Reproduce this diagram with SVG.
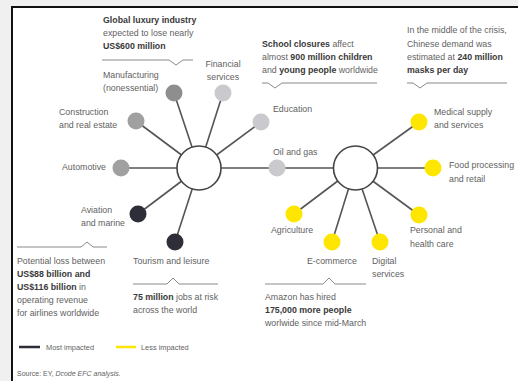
<svg xmlns="http://www.w3.org/2000/svg" width="518" height="381" viewBox="0 0 518 381">
  <style>
    text { font-family: "Liberation Sans", Arial, sans-serif; font-size: 8.8px; fill: #5f5f5f; }
    .b { font-weight: bold; fill: #3a3a3a; }
    .src { font-size: 7px; }
    .it { font-style: italic; }
    .spoke { stroke: #555; stroke-width: 1.6; fill: none; }
    .hub { fill: #fff; stroke: #444; stroke-width: 1.6; }
    .call { stroke: #8a8a8a; stroke-width: 1; fill: none; }
    .most { fill: #2e2e38; }
    .mid { fill: #8e8e8e; }
    .gray { fill: #a0a0a0; }
    .light { fill: #c9c9ce; }
    .less { fill: #ffe600; }
  </style>

  <!-- page backdrop and panel -->
  <rect x="0" y="0" width="518" height="381" fill="#f0f0f0"/>
  <rect x="12" y="7" width="520" height="390" fill="#fff" stroke="#111" stroke-width="2"/>

  <!-- spokes -->
  <g id="connectors">
    <line class="spoke" x1="199" y1="168" x2="174" y2="93"/>
    <line class="spoke" x1="199" y1="168" x2="223" y2="93"/>
    <line class="spoke" x1="199" y1="168" x2="136" y2="121"/>
    <line class="spoke" x1="199" y1="168" x2="261" y2="122"/>
    <line class="spoke" x1="199" y1="168" x2="121" y2="168"/>
    <line class="spoke" x1="199" y1="168" x2="355" y2="168"/>
    <line class="spoke" x1="199" y1="168" x2="138" y2="214"/>
    <line class="spoke" x1="199" y1="168" x2="175" y2="242"/>
    <line class="spoke" x1="355" y1="168" x2="419" y2="122"/>
    <line class="spoke" x1="355" y1="168" x2="433" y2="168"/>
    <line class="spoke" x1="355" y1="168" x2="419" y2="215"/>
    <line class="spoke" x1="355" y1="168" x2="380" y2="242"/>
    <line class="spoke" x1="355" y1="168" x2="332" y2="242"/>
    <line class="spoke" x1="355" y1="168" x2="294" y2="214"/>
  </g>

  <!-- hubs -->
  <g id="hub-left"><circle class="hub" cx="199" cy="168" r="22"/></g>
  <g id="hub-right"><circle class="hub" cx="355.5" cy="168" r="22"/></g>

  <!-- most impacted sectors -->
  <g id="manufacturing">
    <circle class="mid" cx="174" cy="93" r="8.5"/>
    <text x="103" y="78">Manufacturing</text>
    <text x="103" y="91">(nonessential)</text>
  </g>
  <g id="luxury-note">
    <text x="103" y="23" class="b">Global luxury industry</text>
    <text x="103" y="36">expected to lose nearly</text>
    <text x="103" y="49" class="b">US$600 million</text>
    <polyline class="call" points="102,60 169,60 176,65 183,60 193,60"/>
  </g>
  <g id="financial">
    <circle class="light" cx="223" cy="93" r="8.5"/>
    <text x="223" y="67" text-anchor="middle">Financial</text>
    <text x="223" y="79.5" text-anchor="middle">services</text>
  </g>
  <g id="construction">
    <circle class="gray" cx="136" cy="121" r="8.5"/>
    <text x="59" y="115">Construction</text>
    <text x="59" y="128">and real estate</text>
  </g>
  <g id="education">
    <circle class="light" cx="261" cy="122" r="8.5"/>
    <text x="273" y="112">Education</text>
  </g>
  <g id="education-note">
    <text x="262" y="47"><tspan class="b">School closures</tspan> affect</text>
    <text x="262" y="60">almost <tspan class="b">900 million children</tspan></text>
    <text x="262" y="73">and <tspan class="b">young people</tspan> worldwide</text>
    <polyline class="call" points="262,83 268,83 275,88 282,83 377,83"/>
  </g>
  <g id="automotive">
    <circle class="gray" cx="121" cy="168" r="8.5"/>
    <text x="106" y="170" text-anchor="end">Automotive</text>
  </g>
  <g id="oil-gas">
    <circle class="light" cx="277" cy="168" r="8.5"/>
    <text x="273" y="155">Oil and gas</text>
  </g>
  <g id="aviation">
    <circle class="most" cx="138" cy="214" r="8.5"/>
    <text x="81" y="213">Aviation</text>
    <text x="81" y="226">and marine</text>
  </g>
  <g id="aviation-note">
    <polyline class="call" points="17,247 81,247 87,242 93,247 107,247"/>
    <text x="17" y="264">Potential loss between</text>
    <text x="17" y="277" class="b">US$88 billion and</text>
    <text x="17" y="290"><tspan class="b">US$116 billion</tspan> in</text>
    <text x="17" y="303">operating revenue</text>
    <text x="17" y="315.5">for airlines worldwide</text>
  </g>
  <g id="tourism">
    <circle class="most" cx="175" cy="242" r="8.5"/>
    <text x="133" y="264">Tourism and leisure</text>
  </g>
  <g id="tourism-note">
    <polyline class="call" points="133,284 167,284 173,278 179,284 218,284"/>
    <text x="133" y="300"><tspan class="b">75 million</tspan> jobs at risk</text>
    <text x="133" y="313">across the world</text>
  </g>

  <!-- less impacted sectors -->
  <g id="medical">
    <circle class="less" cx="419" cy="122" r="8.5"/>
    <text x="434" y="115">Medical supply</text>
    <text x="434" y="128">and services</text>
  </g>
  <g id="masks-note">
    <text x="407" y="33">In the middle of the crisis,</text>
    <text x="407" y="47">Chinese demand was</text>
    <text x="407" y="60">estimated at <tspan class="b">240 million</tspan></text>
    <text x="407" y="73" class="b">masks per day</text>
    <polyline class="call" points="407,83 413,83 420,88 427,83 507,83"/>
  </g>
  <g id="food">
    <circle class="less" cx="433" cy="168" r="8.5"/>
    <text x="449" y="168">Food processing</text>
    <text x="449" y="182">and retail</text>
  </g>
  <g id="personal-care">
    <circle class="less" cx="419" cy="215" r="8.5"/>
    <text x="410" y="233">Personal and</text>
    <text x="410" y="247">health care</text>
  </g>
  <g id="digital">
    <circle class="less" cx="380" cy="242" r="8.5"/>
    <text x="372" y="264">Digital</text>
    <text x="372" y="277">services</text>
  </g>
  <g id="ecommerce">
    <circle class="less" cx="332" cy="242" r="8.5"/>
    <text x="307" y="264">E-commerce</text>
  </g>
  <g id="ecommerce-note">
    <polyline class="call" points="265,284 323,284 329,278 335,284 366,284"/>
    <text x="265" y="300">Amazon has hired</text>
    <text x="265" y="313" class="b">175,000 more people</text>
    <text x="265" y="326">worlwide since mid-March</text>
  </g>
  <g id="agriculture">
    <circle class="less" cx="294" cy="214" r="8.5"/>
    <text x="271" y="233">Agriculture</text>
  </g>

  <!-- legend -->
  <g id="legend">
    <line x1="19" y1="347" x2="40" y2="347" stroke="#2e2e38" stroke-width="2.5"/>
    <text x="46" y="349.5" style="font-size:7.4px">Most impacted</text>
    <line x1="116" y1="347" x2="136" y2="347" stroke="#ffe600" stroke-width="2.5"/>
    <text x="141" y="349.5" style="font-size:7.4px">Less impacted</text>
  </g>
  <text x="17" y="376" class="src">Source: EY, <tspan class="it">Dcode EFC analysis.</tspan></text>
</svg>
